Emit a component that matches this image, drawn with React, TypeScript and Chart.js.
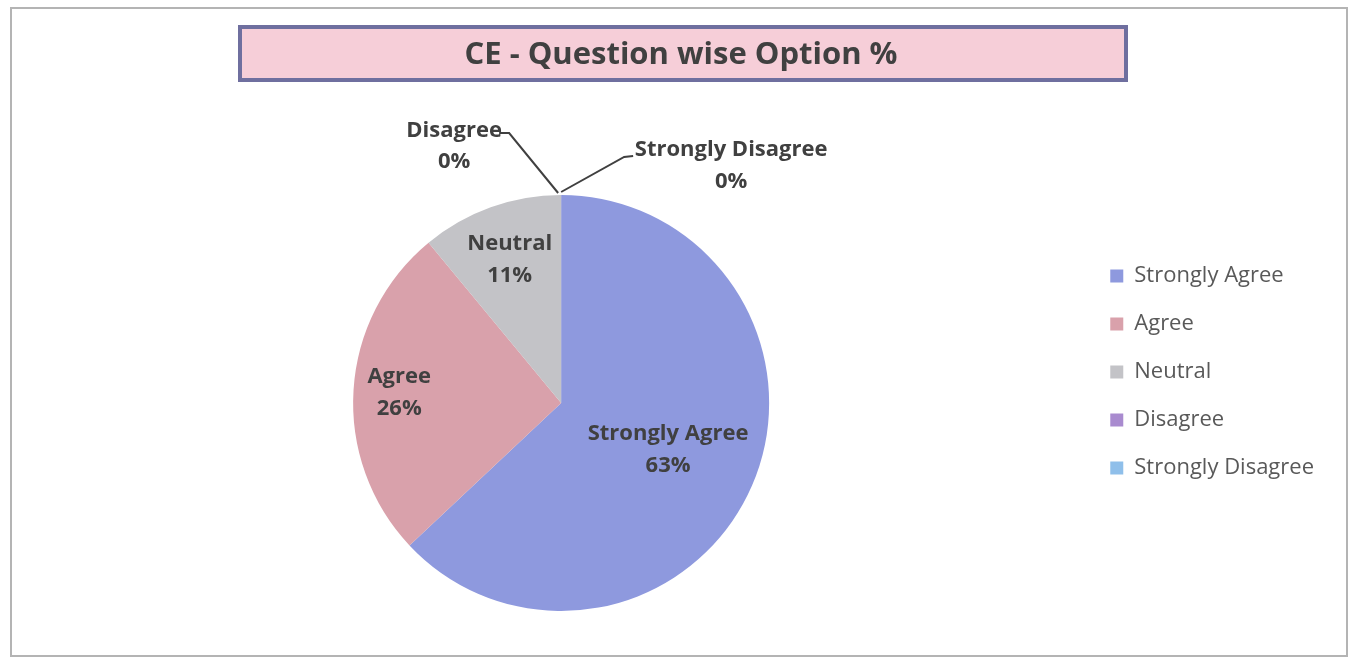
import React, { useEffect, useRef } from 'react';
import { Chart, registerables } from 'chart.js';

Chart.register(...registerables);

const categories = ['Strongly Agree', 'Agree', 'Neutral', 'Disagree', 'Strongly Disagree'];
const percentages = [63, 26, 11, 0, 0];
const sliceColors = ['#8e99de', '#d9a1ab', '#c3c3c7', '#a98bcf', '#8fbfea'];
const titleText = 'CE - Question wise Option %';

const FONT = "'Open Sans', 'DejaVu Sans', sans-serif";
const TEXT_DARK = '#404040';

const framePlugin = {
  id: 'frameAndTitleBox',
  beforeDraw(chart: any) {
    const ctx = chart.ctx;
    ctx.save();
    ctx.fillStyle = '#ffffff';
    ctx.fillRect(0, 0, chart.width, chart.height);
    ctx.strokeStyle = '#b4b4b4';
    ctx.lineWidth = 2;
    ctx.strokeRect(11, 8, 1336, 648);
    // title box
    ctx.fillStyle = '#f6ced8';
    ctx.fillRect(240, 27, 886, 53);
    ctx.strokeStyle = '#6f6f9f';
    ctx.lineWidth = 4;
    ctx.strokeRect(240, 27, 886, 53);
    ctx.restore();
  },
};

const labelPlugin = {
  id: 'sliceLabels',
  afterDatasetsDraw(chart: any) {
    const ctx = chart.ctx;
    const meta = chart.getDatasetMeta(0);
    const data = chart.data.datasets[0].data as number[];
    const labels = chart.data.labels as string[];
    const radialFactor = [0.56, 0.78, 0.73];
    ctx.save();
    ctx.fillStyle = TEXT_DARK;
    ctx.strokeStyle = TEXT_DARK;
    ctx.font = `bold 22px ${FONT}`;
    ctx.textAlign = 'center';
    ctx.textBaseline = 'middle';
    meta.data.forEach((arc: any, i: number) => {
      const p = arc.getProps(['x', 'y', 'startAngle', 'endAngle', 'outerRadius'], true);
      const v = data[i];
      const pct = `${v}%`;
      if (v > 0) {
        const mid = (p.startAngle + p.endAngle) / 2;
        const f = radialFactor[i] ?? 0.6;
        const cx = p.x + Math.cos(mid) * p.outerRadius * f;
        const cy = p.y + Math.sin(mid) * p.outerRadius * f;
        ctx.fillText(labels[i], cx, cy - 16);
        ctx.fillText(pct, cx, cy + 16);
      } else {
        const ax = p.x + Math.cos(p.startAngle) * p.outerRadius;
        const ay = p.y + Math.sin(p.startAngle) * p.outerRadius;
        ctx.lineWidth = 2;
        ctx.beginPath();
        if (labels[i] === 'Disagree') {
          ctx.moveTo(ax - 3, ay - 2);
          ctx.lineTo(ax - 52, ay - 62);
          ctx.lineTo(ax - 62, ay - 62);
          ctx.stroke();
          ctx.fillText(labels[i], ax - 107, ay - 64);
          ctx.fillText(pct, ax - 107, ay - 33);
        } else {
          ctx.moveTo(ax, ay - 3);
          ctx.lineTo(ax + 63, ay - 38);
          ctx.lineTo(ax + 72, ay - 39);
          ctx.stroke();
          ctx.fillText(labels[i], ax + 170, ay - 45);
          ctx.fillText(pct, ax + 170, ay - 13);
        }
      }
    });
    ctx.restore();
  },
};

export default function App() {
  const canvasRef = useRef<HTMLCanvasElement | null>(null);

  useEffect(() => {
    if (!canvasRef.current) return;
    const chart = new Chart(canvasRef.current, {
      type: 'pie',
      data: {
        labels: categories,
        datasets: [
          {
            data: percentages,
            backgroundColor: sliceColors,
            borderWidth: 0,
            clip: false as any,
          },
        ],
      },
      options: {
        responsive: false,
        animation: false,
        devicePixelRatio: 1,
        layout: { padding: { left: 38, right: 32, top: 10, bottom: 46 } },
        plugins: {
          title: {
            display: true,
            text: titleText,
            color: TEXT_DARK,
            font: { family: FONT, size: 31, weight: 'bold' },
            padding: { top: 26.4, bottom: 121.4 },
          },
          legend: {
            display: true,
            position: 'right',
            align: 'center',
            maxWidth: 242,
            title: {
              display: true,
              text: '',
              padding: { top: 0, bottom: 108.6 },
            },
            labels: {
              boxWidth: 13,
              boxHeight: 13,
              padding: 26,
              color: '#595959',
              font: { family: FONT, size: 22 },
            },
          },
          tooltip: { enabled: false },
        },
      },
      plugins: [framePlugin, labelPlugin],
    });
    return () => chart.destroy();
  }, []);

  return (
    <div style={{ position: 'fixed', left: 0, top: 0, width: 1356, height: 657, background: '#fff' }}>
      <canvas ref={canvasRef} width={1356} height={657} style={{ display: 'block' }} />
    </div>
  );
}
